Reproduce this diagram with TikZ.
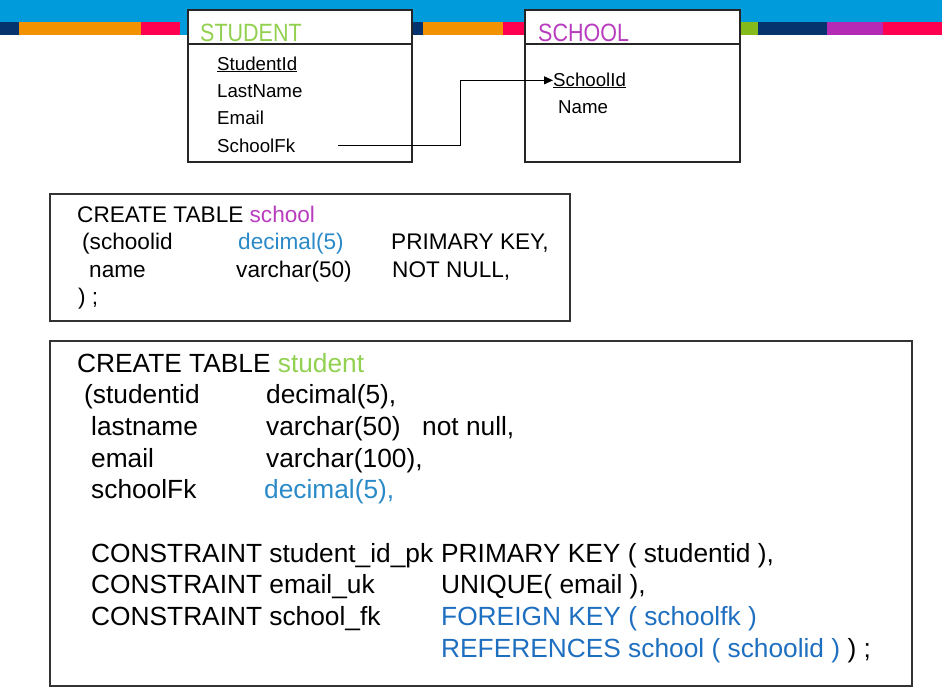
\documentclass[tikz,border=0pt]{standalone}
\usepackage{fontspec}
\setmainfont{Liberation Sans}
\newfontfamily\titlefont[FakeStretch=0.86]{Liberation Sans}
\usetikzlibrary{arrows.meta}

\definecolor{bandblue}{HTML}{009BDB}
\definecolor{bandnavy}{HTML}{04336E}
\definecolor{bandorange}{HTML}{F39200}
\definecolor{bandred}{HTML}{FF0050}
\definecolor{bandgreen}{HTML}{84BA1A}
\definecolor{bandpurple}{HTML}{B52AB5}
\definecolor{stgreen}{HTML}{92D050}
\definecolor{scpurple}{HTML}{B83CBE}
\definecolor{lightsql}{HTML}{2A8AC8}
\definecolor{darksql}{HTML}{1F6FC0}

\tikzset{
  entity/.style = {draw=black!85, line width=1.2pt, fill=white},
  title/.style = {anchor=base west, inner sep=0pt, font=\titlefont\fontsize{25pt}{30pt}\selectfont},
  attr/.style = {anchor=base west, inner sep=0pt, font=\fontsize{18.7pt}{22pt}\selectfont},
  sqlsmall/.style = {anchor=base west, inner sep=0pt, font=\fontsize{22.6pt}{27pt}\selectfont},
  sqlbig/.style = {anchor=base west, inner sep=0pt, font=\fontsize{26.3pt}{31pt}\selectfont}
}

\begin{document}
\begin{tikzpicture}[x=1pt, y=-1pt]
  \useasboundingbox (0,0) rectangle (942,694);

  % top band
  \fill[bandblue] (0,0) rectangle (942,35);
  \fill[bandnavy] (0,22) rectangle (19,35);
  \fill[bandorange] (19,22) rectangle (141,35);
  \fill[bandred] (141,22) rectangle (180,35);
  \fill[bandnavy] (412,22) rectangle (423,35);
  \fill[bandorange] (423,22) rectangle (503,35);
  \fill[bandred] (503,22) rectangle (525,35);
  \fill[bandgreen] (740,22) rectangle (758,35);
  \fill[bandnavy] (758,22) rectangle (827,35);
  \fill[bandpurple] (827,22) rectangle (883,35);
  \fill[bandred] (883,22) rectangle (942,35);

  % entities
  \draw[entity] (188,10) rectangle (412,162);
  \draw[entity] (188,44) -- (412,44);
  \node[title, text=stgreen] (student) at (200,41) {STUDENT};
  \node[attr] (sid) at (217,70) {\underline{StudentId}};
  \node[attr] (lname) at (217,97) {LastName};
  \node[attr] (mail) at (217,124) {Email};
  \node[attr] (sfk) at (217,152) {SchoolFk};

  \draw[entity] (525,10) rectangle (740,162);
  \draw[entity] (525,44) -- (740,44);
  \node[title, text=scpurple] (school) at (538,41) {SCHOOL};
  \node[attr] (schid) at (553,86) {\underline{SchoolId}};
  \node[attr] (schname) at (558,113) {Name};

  \coordinate (fkstart) at (338,145);
  \draw[line width=1pt, -{Triangle[length=9pt,width=8pt]}] (fkstart) -- ++(122,0) |- (schid.west);

  % create table school
  \draw[line width=1.1pt, draw=black!80] (50,194) rectangle (570,321);
  \node[sqlsmall] (c1) at (77,222) {CREATE TABLE \textcolor{scpurple}{school}};
  \node[sqlsmall] (c1a) at (82,249.5) {(schoolid};
  \node[sqlsmall, text=lightsql] (c1b) at (238,249.5) {decimal(5)};
  \node[sqlsmall] (c1c) at (391,249.5) {PRIMARY KEY,};
  \node[sqlsmall] (c1d) at (89,277) {name};
  \node[sqlsmall] (c1e) at (236,277) {varchar(50)};
  \node[sqlsmall] (c1f) at (392,277) {NOT NULL,};
  \node[sqlsmall] (c1g) at (78,304.5) {) ;};

  % create table student
  \draw[line width=1.1pt, draw=black!80] (50,341) rectangle (912,686);
  \node[sqlbig] (c2) at (77,372) {CREATE TABLE \textcolor{stgreen}{student}};
  \node[sqlbig] (c2a) at (84,403) {(studentid};
  \node[sqlbig] (c2b) at (266,403) {decimal(5),};
  \node[sqlbig] (c2c) at (91,435) {lastname};
  \node[sqlbig] (c2d) at (266,435) {varchar(50)};
  \node[sqlbig] (c2e) at (422,435) {not null,};
  \node[sqlbig] (c2f) at (91,467) {email};
  \node[sqlbig] (c2g) at (266,467) {varchar(100),};
  \node[sqlbig] (c2h) at (91,498) {schoolFk};
  \node[sqlbig, text=lightsql] (c2i) at (264,498) {decimal(5),};
  \node[sqlbig] (k1) at (91,562) {CONSTRAINT student\_id\_pk};
  \node[sqlbig] (k1a) at (441,562) {PRIMARY KEY ( studentid ),};
  \node[sqlbig] (k2) at (91,593) {CONSTRAINT email\_uk};
  \node[sqlbig] (k2a) at (441,593) {UNIQUE( email ),};
  \node[sqlbig] (k3) at (91,625) {CONSTRAINT school\_fk};
  \node[sqlbig, text=darksql] (k3a) at (441,625) {FOREIGN KEY ( schoolfk )};
  \node[sqlbig] (k3b) at (441,657) {\textcolor{darksql}{REFERENCES school ( schoolid )} ) ;};
\end{tikzpicture}
\end{document}
